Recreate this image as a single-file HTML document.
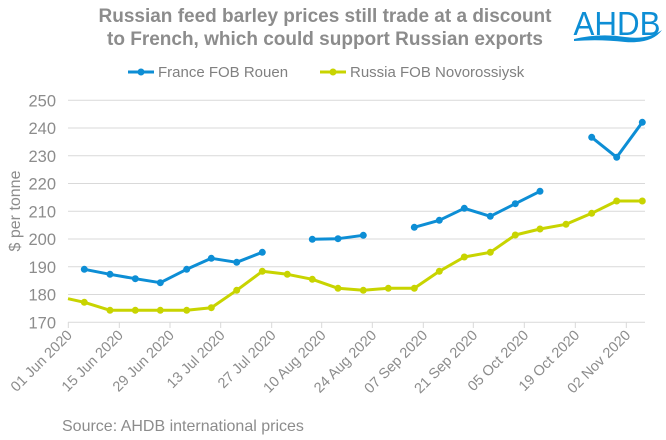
<!DOCTYPE html>
<html><head><meta charset="utf-8"><style>
html,body{margin:0;padding:0;background:#fff;}
svg{display:block;font-family:"Liberation Sans",Arial,sans-serif;}
</style></head><body>
<svg width="666" height="440" viewBox="0 0 666 440" xmlns="http://www.w3.org/2000/svg">
<text x="325" y="22" text-anchor="middle" font-size="19" font-weight="bold" fill="#8c8c8c">Russian feed barley prices still trade at a discount</text>
<text x="325" y="45" text-anchor="middle" font-size="19" font-weight="bold" fill="#8c8c8c">to French, which could support Russian exports</text>
<text x="617" y="35" text-anchor="middle" font-size="33" fill="#0d8ed5" textLength="87" lengthAdjust="spacingAndGlyphs">AHDB</text>
<path d="M574 39 Q600 33 625 37 Q648 40 662 30 Q652 44 625 42 Q600 39 574 41 Z" fill="#0d8ed5"/>
<line x1="128" y1="72" x2="154" y2="72" stroke="#0d8ed5" stroke-width="3"/><circle cx="141" cy="72" r="3.5" fill="#0d8ed5"/>
<text x="158" y="77" font-size="15" fill="#808080">France FOB Rouen</text>
<line x1="320" y1="72" x2="346" y2="72" stroke="#c8d400" stroke-width="3"/><circle cx="333" cy="72" r="3.5" fill="#c8d400"/>
<text x="350" y="77" font-size="15" fill="#808080">Russia FOB Novorossiysk</text>
<g stroke="#d9d9d9" stroke-width="1">
<line x1="68" x2="645" y1="100.3" y2="100.3"/><line x1="68" x2="645" y1="128" y2="128"/><line x1="68" x2="645" y1="155.8" y2="155.8"/><line x1="68" x2="645" y1="183.5" y2="183.5"/><line x1="68" x2="645" y1="211.3" y2="211.3"/><line x1="68" x2="645" y1="239" y2="239"/><line x1="68" x2="645" y1="266.8" y2="266.8"/><line x1="68" x2="645" y1="294.5" y2="294.5"/><line x1="68" x2="645" y1="322.3" y2="322.3"/>
<path d="M68.3 322v6M119.3 322v6M170 322v6M220.7 322v6M271.7 322v6M321.7 322v6M372.3 322v6M423.3 322v6M473.3 322v6M524.3 322v6M575.3 322v6M626.3 322v6"/>
</g>
<g font-size="16.5" fill="#8c8c8c" text-anchor="end">
<text x="56" y="106.5">250</text><text x="56" y="134.2">240</text><text x="56" y="162">230</text><text x="56" y="189.7">220</text><text x="56" y="217.5">210</text><text x="56" y="245.2">200</text><text x="56" y="273">190</text><text x="56" y="300.7">180</text><text x="56" y="328.5">170</text>
</g>
<text transform="translate(20,211) rotate(-90)" text-anchor="middle" font-size="16" fill="#8c8c8c">$ per tonne</text>
<g font-size="14.5" fill="#8c8c8c" text-anchor="end">
<text transform="translate(73,336) rotate(-45)">01 Jun 2020</text>
<text transform="translate(124,336) rotate(-45)">15 Jun 2020</text>
<text transform="translate(175,336) rotate(-45)">29 Jun 2020</text>
<text transform="translate(225.7,336) rotate(-45)">13 Jul 2020</text>
<text transform="translate(276.7,336) rotate(-45)">27 Jul 2020</text>
<text transform="translate(326.7,336) rotate(-45)">10 Aug 2020</text>
<text transform="translate(377.3,336) rotate(-45)">24 Aug 2020</text>
<text transform="translate(428.3,336) rotate(-45)">07 Sep 2020</text>
<text transform="translate(478.3,336) rotate(-45)">21 Sep 2020</text>
<text transform="translate(529.3,336) rotate(-45)">05 Oct 2020</text>
<text transform="translate(580.3,336) rotate(-45)">19 Oct 2020</text>
<text transform="translate(631.3,336) rotate(-45)">02 Nov 2020</text>
</g>
<text x="62" y="431" font-size="16" fill="#8c8c8c">Source: AHDB international prices</text>
<g fill="none" stroke-width="3" stroke-linejoin="round">
<polyline stroke="#c8d400" points="68,298.7 84.3,302.3 110,310.3 135.3,310.3 160.3,310.3 186.7,310.3 211.3,307.7 236.7,290.3 262.3,271.3 287.3,274.3 312.3,279.3 338,288.3 363.3,290.3 388.3,288.3 414.3,288.3 439.3,271.3 464.3,257 490.3,252.3 515.3,235 540,229 566,224.3 591.7,213.3 616.7,201 642.3,201"/>
<polyline stroke="#0d8ed5" points="84.3,269.3 110,274.3 135.3,278.7 160.3,282.7 186.7,269.3 211.3,258.3 236.7,262.3 262.3,252.3"/>
<polyline stroke="#0d8ed5" points="312.3,239.3 338,238.7 363.3,235.3"/>
<polyline stroke="#0d8ed5" points="414.3,227.3 439.3,220.3 464.3,208.3 490.3,216.3 515.3,203.7 540,191.3"/>
<polyline stroke="#0d8ed5" points="591.7,137.3 616.7,157.3 642.3,122.3"/>
</g>
<g fill="#c8d400">
<circle cx="84.3" cy="302.3" r="3.5"/><circle cx="110" cy="310.3" r="3.5"/><circle cx="135.3" cy="310.3" r="3.5"/><circle cx="160.3" cy="310.3" r="3.5"/><circle cx="186.7" cy="310.3" r="3.5"/><circle cx="211.3" cy="307.7" r="3.5"/><circle cx="236.7" cy="290.3" r="3.5"/><circle cx="262.3" cy="271.3" r="3.5"/><circle cx="287.3" cy="274.3" r="3.5"/><circle cx="312.3" cy="279.3" r="3.5"/><circle cx="338" cy="288.3" r="3.5"/><circle cx="363.3" cy="290.3" r="3.5"/><circle cx="388.3" cy="288.3" r="3.5"/><circle cx="414.3" cy="288.3" r="3.5"/><circle cx="439.3" cy="271.3" r="3.5"/><circle cx="464.3" cy="257" r="3.5"/><circle cx="490.3" cy="252.3" r="3.5"/><circle cx="515.3" cy="235" r="3.5"/><circle cx="540" cy="229" r="3.5"/><circle cx="566" cy="224.3" r="3.5"/><circle cx="591.7" cy="213.3" r="3.5"/><circle cx="616.7" cy="201" r="3.5"/><circle cx="642.3" cy="201" r="3.5"/>
</g>
<g fill="#0d8ed5">
<circle cx="84.3" cy="269.3" r="3.5"/><circle cx="110" cy="274.3" r="3.5"/><circle cx="135.3" cy="278.7" r="3.5"/><circle cx="160.3" cy="282.7" r="3.5"/><circle cx="186.7" cy="269.3" r="3.5"/><circle cx="211.3" cy="258.3" r="3.5"/><circle cx="236.7" cy="262.3" r="3.5"/><circle cx="262.3" cy="252.3" r="3.5"/>
<circle cx="312.3" cy="239.3" r="3.5"/><circle cx="338" cy="238.7" r="3.5"/><circle cx="363.3" cy="235.3" r="3.5"/>
<circle cx="414.3" cy="227.3" r="3.5"/><circle cx="439.3" cy="220.3" r="3.5"/><circle cx="464.3" cy="208.3" r="3.5"/><circle cx="490.3" cy="216.3" r="3.5"/><circle cx="515.3" cy="203.7" r="3.5"/><circle cx="540" cy="191.3" r="3.5"/>
<circle cx="591.7" cy="137.3" r="3.5"/><circle cx="616.7" cy="157.3" r="3.5"/><circle cx="642.3" cy="122.3" r="3.5"/>
</g>
</svg>
</body></html>
